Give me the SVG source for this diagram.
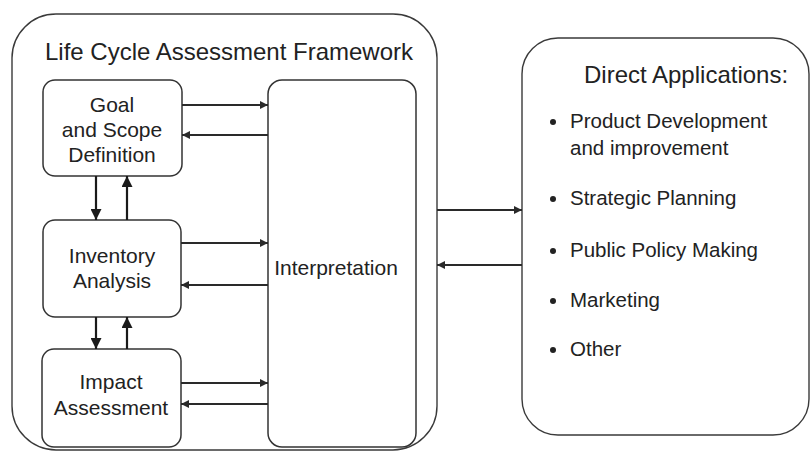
<svg xmlns="http://www.w3.org/2000/svg" width="810" height="451" viewBox="0 0 810 451">
  <defs>
    <marker id="ah" viewBox="0 0 10 10" refX="10" refY="5" markerWidth="10" markerHeight="8" markerUnits="userSpaceOnUse" orient="auto">
      <path d="M0,0 L10,5 L0,10 z" fill="#2a2a2a"/>
    </marker>
    <marker id="ahv" viewBox="0 0 10 10" refX="10" refY="5" markerWidth="12" markerHeight="11" markerUnits="userSpaceOnUse" orient="auto">
      <path d="M0,0 L10,5 L0,10 z" fill="#1a1a1a"/>
    </marker>
  </defs>
  <style>
    .frame { fill: none; stroke: #3a3a3a; stroke-width: 1.4; }
    .box { fill: #ffffff; stroke: #333333; stroke-width: 1.5; }
    .t { font-family: "Liberation Sans", Arial, sans-serif; fill: #222222; }
    .title { font-size: 24px; }
    .lbl { font-size: 21px; text-anchor: middle; }
    .item { font-size: 20.5px; }
    .h { stroke: #2a2a2a; stroke-width: 1.8; fill: none; marker-end: url(#ah); }
    .v { stroke: #1a1a1a; stroke-width: 2.2; fill: none; marker-end: url(#ahv); }
  </style>
  <rect x="0" y="0" width="810" height="451" fill="#ffffff"/>

  <g id="lca-frame">
    <rect class="frame" x="12" y="14" width="425" height="436" rx="44" ry="44"/>
    <text class="t title" x="45" y="60" textLength="368" lengthAdjust="spacing">Life Cycle Assessment Framework</text>
  </g>

  <g id="goal">
    <rect class="box" x="43" y="80" width="139" height="96" rx="12" ry="12"/>
    <text class="t lbl" x="112" y="112">Goal</text>
    <text class="t lbl" x="112" y="137">and Scope</text>
    <text class="t lbl" x="112" y="162">Definition</text>
  </g>

  <g id="inventory">
    <rect class="box" x="43" y="220" width="138" height="97" rx="12" ry="12"/>
    <text class="t lbl" x="112" y="263">Inventory</text>
    <text class="t lbl" x="112" y="288">Analysis</text>
  </g>

  <g id="impact">
    <rect class="box" x="42" y="349" width="139" height="98" rx="12" ry="12"/>
    <text class="t lbl" x="111" y="389">Impact</text>
    <text class="t lbl" x="111" y="415">Assessment</text>
  </g>

  <g id="interpretation">
    <rect class="box" x="268" y="80" width="148" height="367" rx="14" ry="14"/>
    <text class="t lbl" x="336" y="275">Interpretation</text>
  </g>

  <g id="direct-applications">
    <rect class="frame" x="522" y="38" width="287" height="397" rx="36" ry="36"/>
    <text class="t title" x="584" y="83">Direct Applications:</text>
    <g fill="#222222">
      <circle cx="553" cy="122" r="3"/>
      <circle cx="553" cy="199" r="3"/>
      <circle cx="553" cy="251" r="3"/>
      <circle cx="553" cy="301" r="3"/>
      <circle cx="553" cy="350" r="3"/>
    </g>
    <text class="t item" x="570" y="128">Product Development</text>
    <text class="t item" x="570" y="155">and improvement</text>
    <text class="t item" x="570" y="205">Strategic Planning</text>
    <text class="t item" x="570" y="257">Public Policy Making</text>
    <text class="t item" x="570" y="307">Marketing</text>
    <text class="t item" x="570" y="356">Other</text>
  </g>

  <g id="connectors">
    <line class="h" x1="182" y1="105" x2="268" y2="105"/>
    <line class="h" x1="268" y1="135" x2="182" y2="135"/>
    <line class="h" x1="181" y1="243" x2="268" y2="243"/>
    <line class="h" x1="268" y1="285" x2="181" y2="285"/>
    <line class="h" x1="181" y1="383" x2="268" y2="383"/>
    <line class="h" x1="268" y1="404" x2="181" y2="404"/>
    <line class="v" x1="96" y1="176" x2="96" y2="220"/>
    <line class="v" x1="127" y1="220" x2="127" y2="176"/>
    <line class="v" x1="96" y1="317" x2="96" y2="349"/>
    <line class="v" x1="127" y1="349" x2="127" y2="317"/>
    <line class="h" x1="437" y1="210" x2="522" y2="210"/>
    <line class="h" x1="522" y1="265" x2="437" y2="265"/>
  </g>
</svg>
